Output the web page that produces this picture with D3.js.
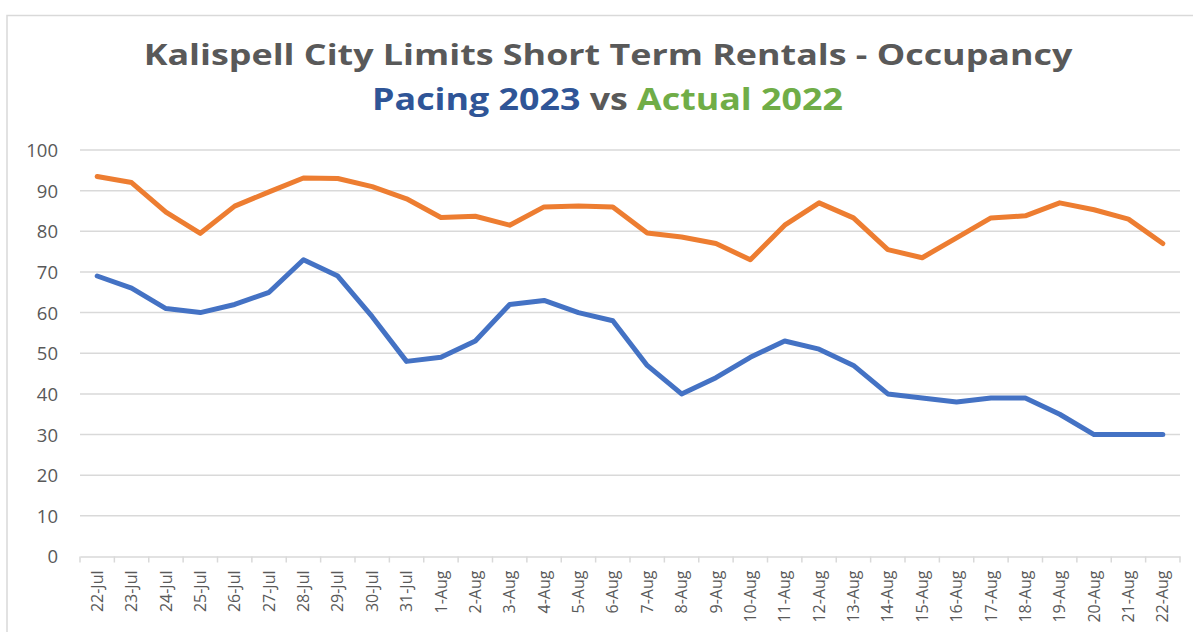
<!DOCTYPE html>
<html><head><meta charset="utf-8">
<script src="https://cdn.jsdelivr.net/npm/d3@7"></script>
<style>
html,body{margin:0;padding:0;background:#fff;}
svg{display:block;}
</style></head>
<body>
<svg id="chart" width="1193" height="632"></svg>
<script>
const categories = ["22-Jul","23-Jul","24-Jul","25-Jul","26-Jul","27-Jul","28-Jul","29-Jul","30-Jul","31-Jul",
  "1-Aug","2-Aug","3-Aug","4-Aug","5-Aug","6-Aug","7-Aug","8-Aug","9-Aug","10-Aug","11-Aug","12-Aug","13-Aug",
  "14-Aug","15-Aug","16-Aug","17-Aug","18-Aug","19-Aug","20-Aug","21-Aug","22-Aug"];
const actual2022 = [93.5,92,84.7,79.5,86.2,89.7,93.1,93,91,88,83.4,83.7,81.5,86,86.2,86,79.6,78.6,77,73,81.5,
  87,83.3,75.5,73.5,78.4,83.3,83.8,87,85.3,83,77];
const pacing2023 = [69,66,61,60,62,65,73,69,59,48,49,53,62,63,60,58,47,40,44,49,53,51,47,40,39,38,39,39,35,30,30,30];
const yTicks = [0,10,20,30,40,50,60,70,80,90,100];
const titleLine1 = "Kalispell City Limits Short Term Rentals - Occupancy";
const titleLine2 = [{t:"Pacing 2023", c:"#2F5597"},{t:" vs ", c:"#595959"},{t:"Actual 2022", c:"#70AD47"}];

const svg = d3.select("#chart");
// outer frame
svg.append("rect").attr("x",7).attr("y",15.5).attr("width",1200).attr("height",640)
  .attr("fill","#fff").attr("stroke","#d9d9d9").attr("stroke-width",1.5);

const pL = 80, pR = 1180, pT = 150, pB = 556.5;
const x = d3.scaleBand().domain(categories).range([pL,pR]).paddingInner(0).paddingOuter(0);
const y = d3.scaleLinear().domain([0,100]).range([pB,pT]);

// gridlines
svg.append("g").selectAll("line").data(yTicks.filter(d=>d>0)).join("line")
  .attr("x1",pL).attr("x2",pR).attr("y1",d=>y(d)).attr("y2",d=>y(d))
  .attr("stroke","#d9d9d9").attr("stroke-width",1.5);

// y axis labels
const yAxis = d3.axisLeft(y).tickValues(yTicks).tickSize(0).tickPadding(22);
const gy = svg.append("g").attr("transform",`translate(${pL},0)`).call(yAxis);
gy.select(".domain").remove();
gy.selectAll("text").attr("font-family","'Open Sans'").attr("font-size",18.5).attr("fill","#595959").attr("dy","0.35em");

// x axis
const xAxis = d3.axisBottom(x).tickSize(0).tickPadding(0);
const gx = svg.append("g").attr("transform",`translate(0,${pB})`).call(xAxis);
gx.select(".domain").attr("stroke","#d9d9d9").attr("stroke-width",1.5);
gx.selectAll("text").attr("font-family","'Open Sans'").attr("font-size",16).attr("fill","#595959")
  .attr("text-anchor","end").attr("transform","rotate(-90)").attr("x",-14).attr("y",0).attr("dy","0.35em");
// tick marks on band boundaries
const bounds = categories.map(c=>x(c)).concat([pR]);
gx.append("g").selectAll("line").data(bounds).join("line")
  .attr("x1",d=>d).attr("x2",d=>d).attr("y1",0).attr("y2",6)
  .attr("stroke","#d9d9d9").attr("stroke-width",1.5);

const cx = d=>x(d)+x.bandwidth()/2;
const line = d3.line().x((d,i)=>cx(categories[i])).y(d=>y(d));
svg.append("path").datum(actual2022).attr("d",line).attr("fill","none")
  .attr("stroke","#ED7D31").attr("stroke-width",5).attr("stroke-linejoin","round").attr("stroke-linecap","round");
svg.append("path").datum(pacing2023).attr("d",line).attr("fill","none")
  .attr("stroke","#4472C4").attr("stroke-width",5).attr("stroke-linejoin","round").attr("stroke-linecap","round");

// titles (reference is horizontally stretched; fit to measured widths)
function fitWidth(sel, cxp, w){
  const bw = sel.node().getBBox().width;
  const s = w / bw;
  sel.attr("transform",`translate(${cxp},0) scale(${s},1) translate(${-cxp},0)`);
}
const t1 = svg.append("text").attr("x",608).attr("y",65).attr("text-anchor","middle")
  .attr("font-family","'Open Sans'").attr("font-weight","bold").attr("font-size",28.5).attr("fill","#595959")
  .text(titleLine1);
fitWidth(t1, 608, 930);
const t2 = svg.append("text").attr("x",607.5).attr("y",110.5).attr("text-anchor","middle")
  .attr("font-family","'Open Sans'").attr("font-weight","bold").attr("font-size",30)
  .attr("xml:space","preserve");
t2.selectAll("tspan").data(titleLine2).join("tspan").attr("fill",d=>d.c).text(d=>d.t);
fitWidth(t2, 607.5, 471);
</script>
</body></html>
